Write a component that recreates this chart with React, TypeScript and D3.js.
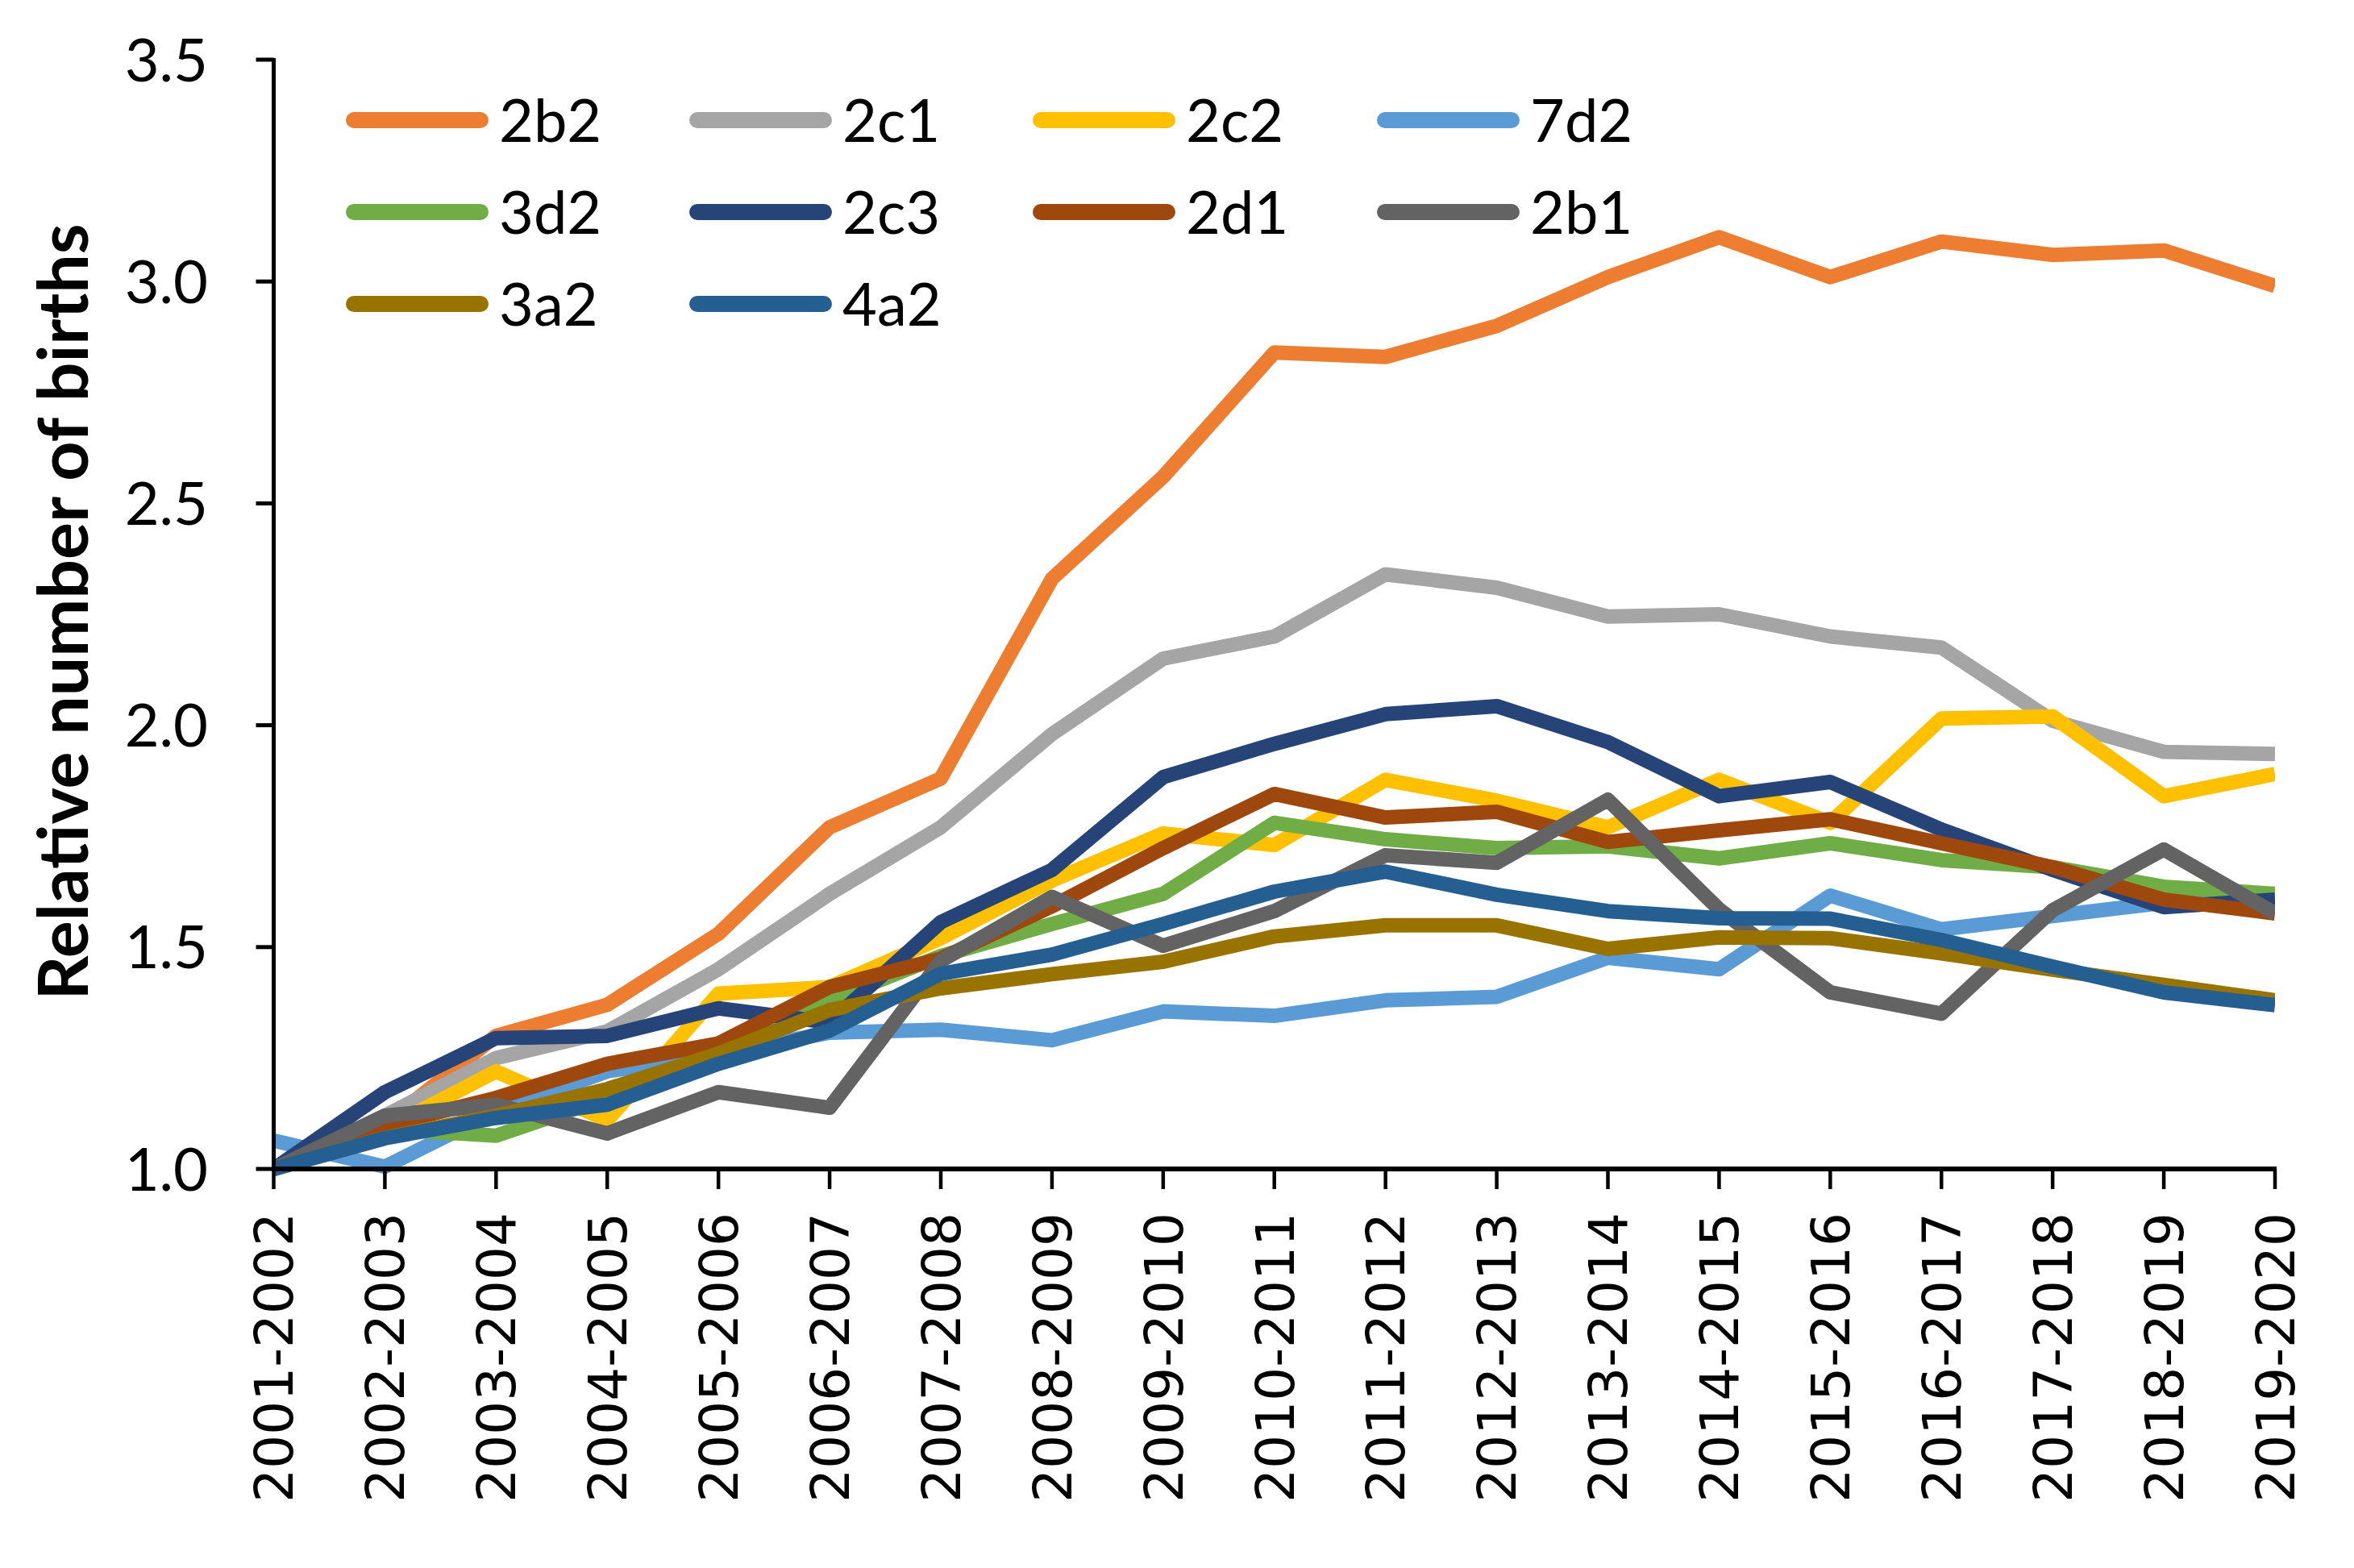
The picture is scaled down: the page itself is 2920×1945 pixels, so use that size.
import React from "react";
import * as d3 from "d3";

const categories = [
  "2001-2002","2002-2003","2003-2004","2004-2005","2005-2006","2006-2007","2007-2008",
  "2008-2009","2009-2010","2010-2011","2011-2012","2012-2013","2013-2014","2014-2015",
  "2015-2016","2016-2017","2017-2018","2018-2019","2019-2020",
];

const s2b2 = [1.0,1.10,1.30,1.37,1.53,1.77,1.88,2.33,2.56,2.84,2.83,2.90,3.01,3.10,3.01,3.09,3.06,3.07,2.99];
const s2c1 = [1.0,1.12,1.25,1.31,1.45,1.62,1.77,1.98,2.15,2.20,2.34,2.31,2.245,2.25,2.20,2.175,2.01,1.94,1.935];
const s2c2 = [1.0,1.09,1.22,1.11,1.395,1.41,1.52,1.65,1.756,1.73,1.877,1.83,1.77,1.877,1.78,2.015,2.02,1.84,1.89];
const s7d2 = [1.064,1.005,1.13,1.22,1.26,1.307,1.314,1.29,1.355,1.345,1.38,1.388,1.476,1.45,1.616,1.54,1.57,1.60,1.62];
const s3d2 = [1.0,1.09,1.075,1.16,1.255,1.38,1.48,1.552,1.62,1.78,1.743,1.723,1.727,1.70,1.734,1.696,1.68,1.636,1.62];
const s2c3 = [1.0,1.173,1.295,1.30,1.362,1.33,1.556,1.674,1.883,1.958,2.025,2.043,1.962,1.84,1.872,1.765,1.674,1.59,1.607];
const s2d1 = [1.0,1.098,1.16,1.237,1.283,1.41,1.474,1.592,1.723,1.845,1.792,1.805,1.737,1.763,1.788,1.734,1.68,1.607,1.576];
const s2b1 = [1.0,1.12,1.145,1.08,1.173,1.138,1.469,1.613,1.503,1.581,1.707,1.69,1.832,1.585,1.398,1.35,1.583,1.72,1.576];
const s3a2 = [1.0,1.07,1.12,1.18,1.26,1.358,1.407,1.439,1.467,1.524,1.549,1.549,1.496,1.522,1.52,1.486,1.449,1.415,1.38];
const s4a2 = [1.0,1.069,1.115,1.145,1.237,1.312,1.44,1.483,1.552,1.625,1.67,1.618,1.581,1.565,1.564,1.516,1.456,1.398,1.369];

const seriesNames = ["2b2","2c1","2c2","7d2","3d2","2c3","2d1","2b1","3a2","4a2"];
const seriesValues = [s2b2,s2c1,s2c2,s7d2,s3d2,s2c3,s2d1,s2b1,s3a2,s4a2];
const seriesColors = ["#ED7D31","#A5A5A5","#FFC000","#5B9BD5","#70AD47","#264478","#9E480E","#636363","#997300","#255E91"];

const yTicks = [1.0,1.5,2.0,2.5,3.0,3.5];
const yTitle = "Relative number of births";

const W = 2920, H = 1945;
const left = 339.5, right = 2822, top = 74, bottom = 1450;

export default function App() {
  const x = d3.scalePoint<string>().domain(categories).range([left, right]);
  const y = d3.scaleLinear().domain([1.0, 3.5]).range([bottom, top]);
  const line = d3.line<number>().x((_, i) => x(categories[i]) as number).y((d) => y(d));

  const legendCols = [429, 855, 1281, 1708];
  const legendRows = [149, 263, 377];

  return (
    <svg width={W} height={H} viewBox={`0 0 ${W} ${H}`} style={{ position: "absolute", left: 0, top: 0, background: "#fff" }}>
      <rect x={0} y={0} width={W} height={H} fill="#fff" />
      <defs>
        <clipPath id="plot">
          <rect x={left} y={0} width={right - left} height={bottom + 12} />
        </clipPath>
      </defs>
      <g clipPath="url(#plot)">
        {seriesValues.map((vals, k) => (
          <path key={seriesNames[k]} d={line(vals) || ""} fill="none" stroke={seriesColors[k]} strokeWidth={18} strokeLinejoin="round" strokeLinecap="butt" />
        ))}
      </g>
      {/* axes */}
      <line x1={left} x2={left} y1={top - 2} y2={bottom + 3} stroke="#000" strokeWidth={5} />
      <line x1={left - 2} x2={right + 2} y1={bottom} y2={bottom} stroke="#000" strokeWidth={6} />
      {yTicks.map((t) => (
        <g key={t}>
          <line x1={left - 22} x2={left} y1={y(t)} y2={y(t)} stroke="#000" strokeWidth={5} />
          <text x={258} y={y(t)} dy="0.36em" textAnchor="end" fontFamily="Lato" fontSize={74} fill="#000">{t.toFixed(1)}</text>
        </g>
      ))}
      {categories.map((c) => (
        <g key={c}>
          <line x1={x(c)} x2={x(c)} y1={bottom} y2={bottom + 25} stroke="#000" strokeWidth={4.5} />
          <text transform={`translate(${x(c)},${bottom + 54}) rotate(-90)`} dy="0.36em" textAnchor="end" fontFamily="DejaVu Sans" fontSize={66} fill="#000">{c}</text>
        </g>
      ))}
      <text transform={`translate(78,759) rotate(-90)`} dy="0.36em" textAnchor="middle" fontFamily="Lato" fontWeight="bold" fontSize={86} fill="#000">{yTitle}</text>
      {seriesNames.map((n, k) => {
        const cx = legendCols[k % 4];
        const cy = legendRows[Math.floor(k / 4)];
        return (
          <g key={n}>
            <line x1={cx + 10} x2={cx + 167} y1={cy} y2={cy} stroke={seriesColors[k]} strokeWidth={20} strokeLinecap="round" />
            <text x={cx + 190} y={cy} dy="0.36em" fontFamily="Lato" fontSize={74} fill="#000">{n}</text>
          </g>
        );
      })}
    </svg>
  );
}
